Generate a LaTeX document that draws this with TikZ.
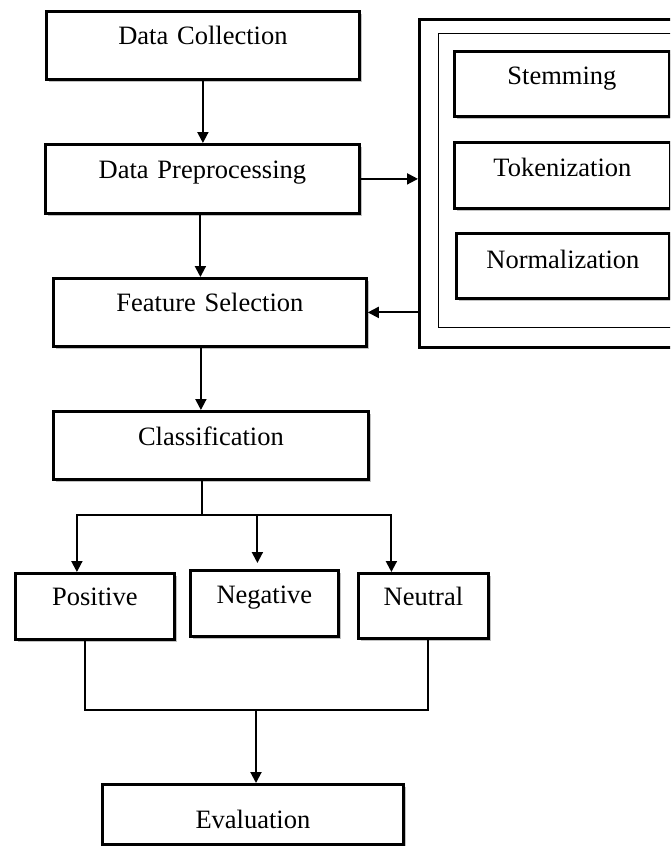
\documentclass[tikz,border=0pt]{standalone}
\usepackage{fontspec}
\setmainfont{Liberation Serif}
\usetikzlibrary{positioning, arrows.meta, shadows}

\begin{document}
\begin{tikzpicture}[x=1pt, y=-1pt,
    block/.style={draw, line width=2.8pt, fill=white, inner sep=0pt, align=center,
        anchor=north west, text height=33pt, text depth=35pt,
        font=\fontsize{26.5}{30}\selectfont,
        drop shadow={shadow xshift=3pt, shadow yshift=-3pt, fill=black!40, opacity=0.6}},
    frame/.style={draw, anchor=north west, inner sep=0pt},
    link/.style={line width=2pt},
    arr/.style={link, -{Triangle[length=11pt, width=11pt]}}]
    \clip (0,0) rectangle (670,846);

    % main chain
    \node[block, text width=313pt] (collect) at (45,10) {Data Collection};
    \node[block, text width=314pt, text height=34pt] (preproc) at (44,143) {Data Preprocessing};
    \node[block, text width=313pt] (select) at (52,277) {Feature Selection};
    \node[block, text width=315pt, text height=34pt, text depth=34pt] (classify) at (52,410) {Classification};
    \node[block, text width=159pt, text height=32pt, text depth=34pt] (pos) at (14,572) {Positive};
    \node[block, text width=148pt, text depth=33pt] (neg) at (189,569) {Negative};
    \node[block, text width=130pt, text height=32pt, text depth=33pt] (neu) at (357,572) {Neutral};
    \node[block, text width=301pt, text height=44pt, text depth=16pt] (eval) at (101,783) {Evaluation};

    % preprocessing steps
    \node[frame, line width=2.8pt, minimum width=300pt, minimum height=328pt] (steps) at (418,18) {};
    \node[frame, line width=0.9pt, minimum width=280pt, minimum height=294pt] (inner) at (438,33) {};
    \node[block, text width=215pt, text depth=32pt] (stem) at (453,50) {Stemming};
    \node[block, text width=216pt, text height=34pt, text depth=32pt] (token) at (453,141) {Tokenization};
    \node[block, text width=213pt, text height=35pt, text depth=30pt] (norm) at (455,232) {Normalization};

    \draw[arr] (collect.south) -- (collect.south |- preproc.north);
    \draw[arr] (preproc.east) -- (preproc.east -| steps.west);
    \draw[arr] ([xshift=-2pt]preproc.south) -- ([xshift=-2pt]preproc.south |- select.north);
    \draw[arr] (select.east -| steps.west) -- (select.east);
    \draw[arr] ([xshift=-9pt]select.south) -- ([xshift=-9pt]select.south |- classify.north);

    % split into classes
    \coordinate (split) at (202,515);
    \draw[link] (classify.south -| split) -- (split);
    \draw[arr] (split) -| ([xshift=-18pt]pos.north);
    \draw[arr] (split) -| ([xshift=-32pt]neu.north);
    \draw[arr, shorten >=6pt] ([xshift=-7pt]neg.north |- split) -- ([xshift=-7pt]neg.north);

    % join into evaluation
    \coordinate (join) at (256,710);
    \draw[link] ([xshift=-10pt]pos.south) |- (join) -| ([xshift=5pt]neu.south);
    \draw[arr] (join) -- (join |- eval.north);
\end{tikzpicture}
\end{document}
